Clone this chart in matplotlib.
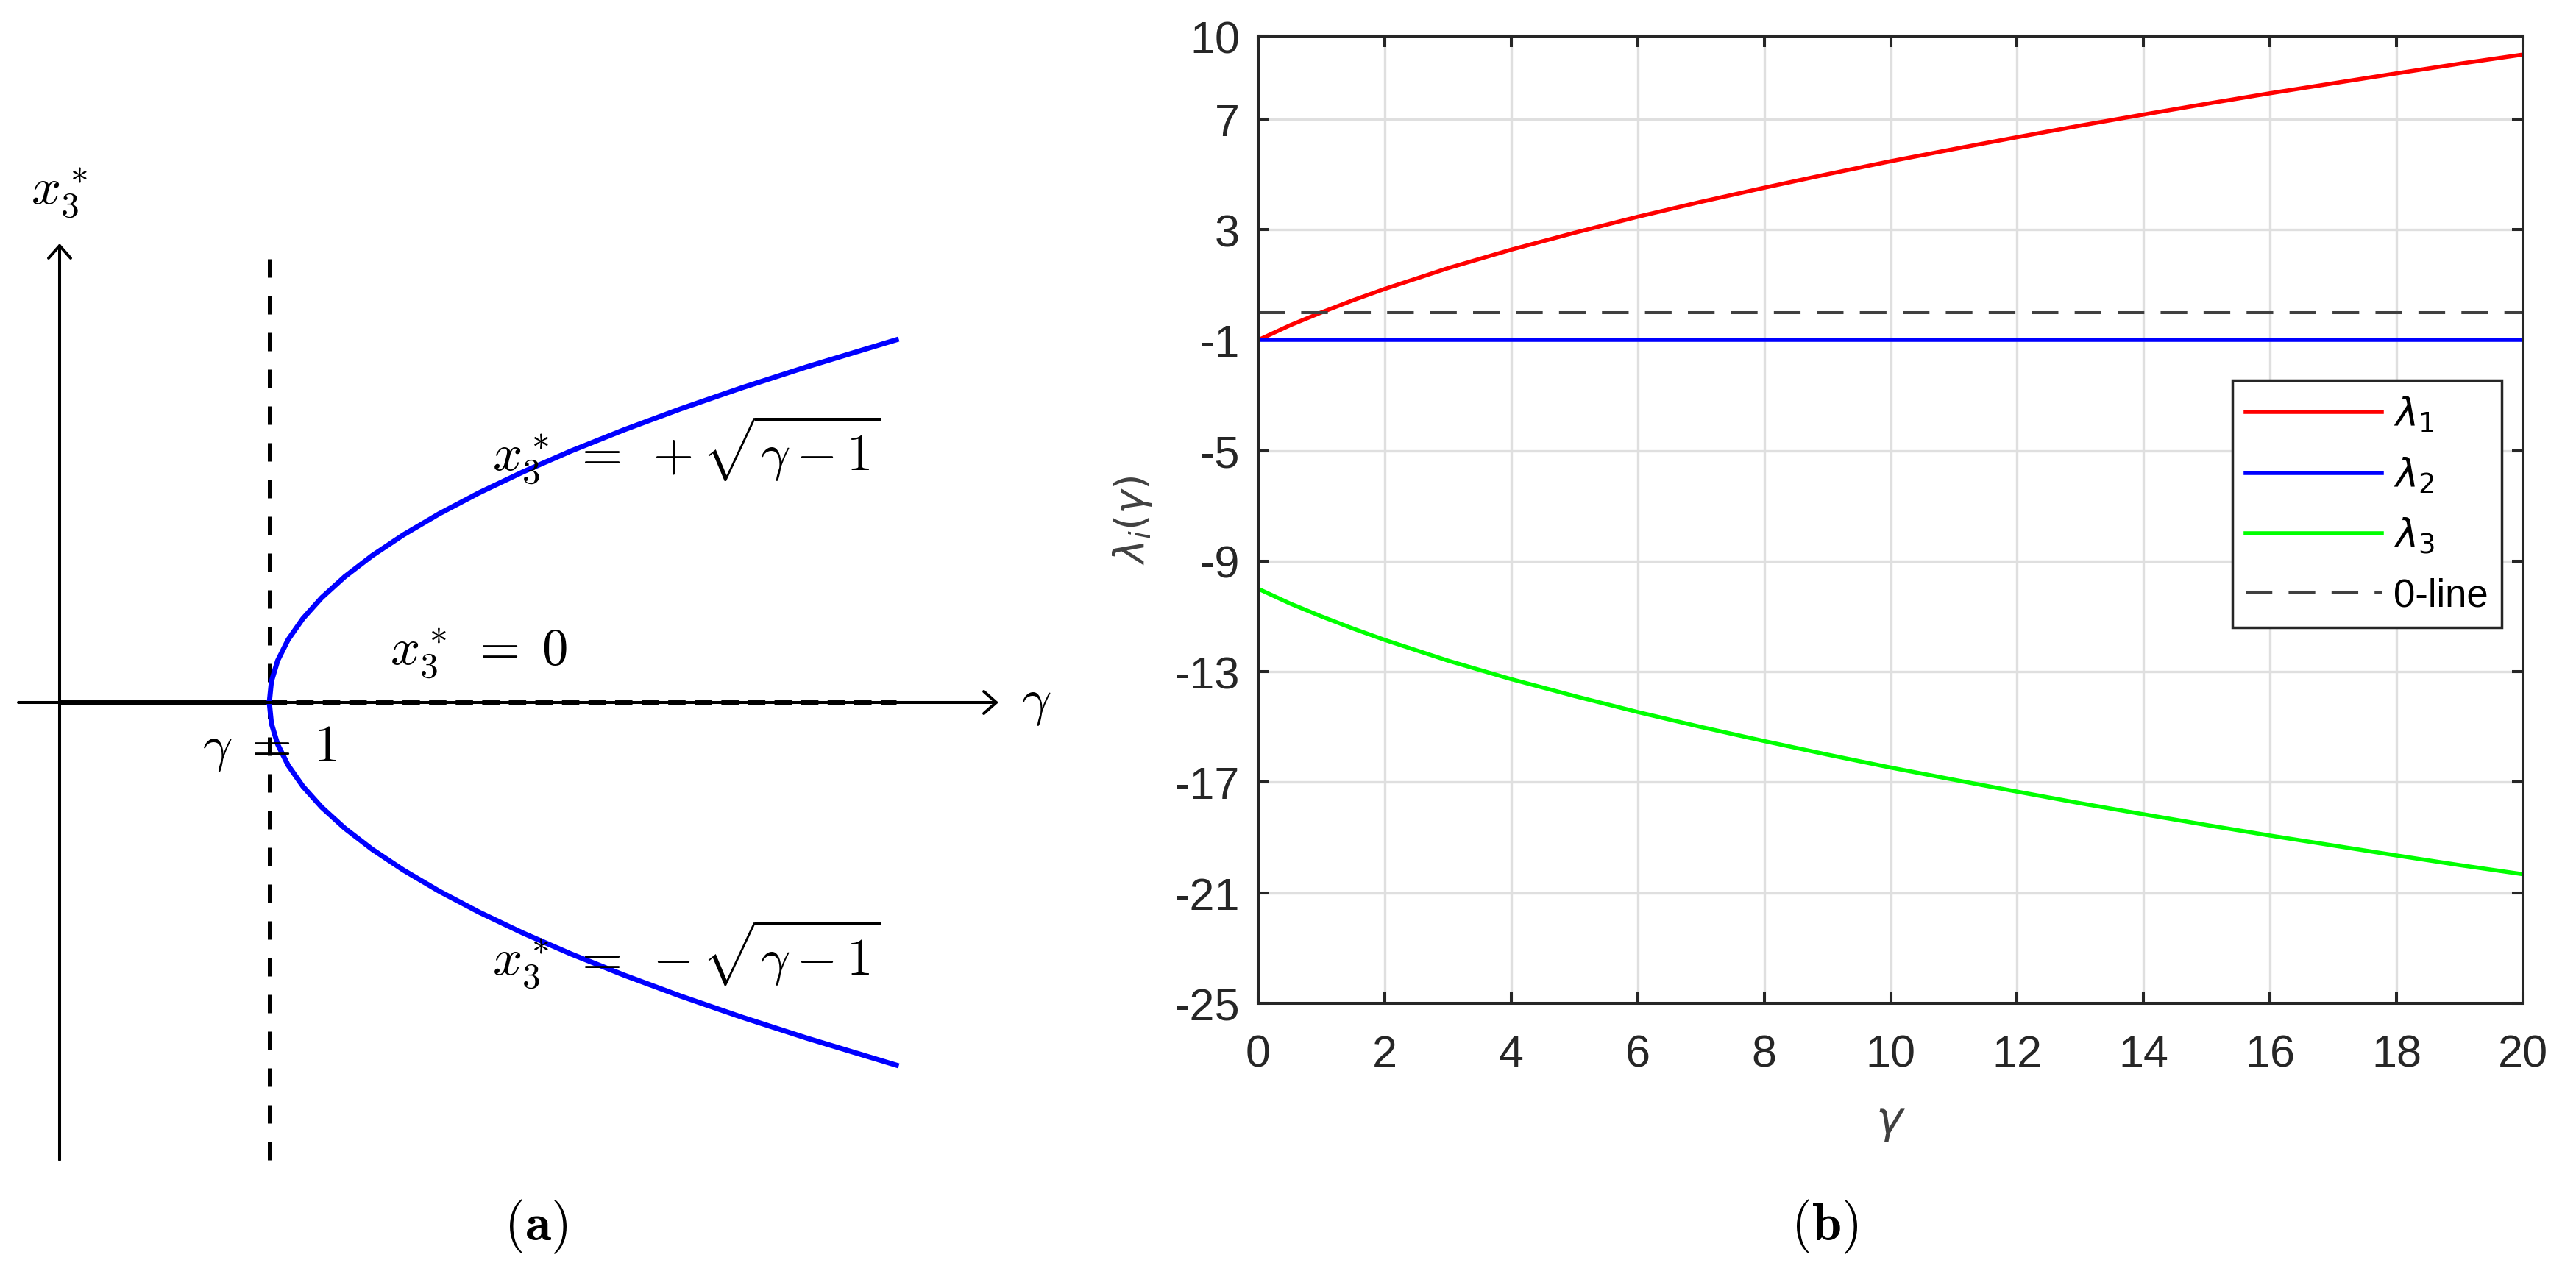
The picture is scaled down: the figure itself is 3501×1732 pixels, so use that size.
import matplotlib
matplotlib.use('Agg')
import matplotlib.pyplot as plt
from matplotlib.font_manager import FontProperties

plt.rcParams['mathtext.fontset'] = 'cm'
plt.rcParams['font.family'] = ['Liberation Sans', 'DejaVu Sans']
plt.rcParams['axes.unicode_minus'] = False

# ---- panel (a): bifurcation sketch ----
x3_branch = [0.0, 0.1, 0.2, 0.3, 0.4, 0.5, 0.6, 0.7, 0.8, 0.9, 1.0,
             1.1, 1.2, 1.3, 1.4, 1.5, 1.6, 1.73]
gamma_branch = [1.0, 1.01, 1.04, 1.09, 1.16, 1.25, 1.36, 1.49, 1.64, 1.81, 2.0,
                2.21, 2.44, 2.69, 2.96, 3.25, 3.56, 3.99]
gamma_crit = 1.0
gamma_end = 3.99

# ---- panel (b): eigenvalues vs gamma ----
gamma = [0, 0.5, 1, 1.5, 2, 3, 4, 5, 6, 7, 8, 9, 10, 11, 12, 13, 14, 15, 16,
         17, 18, 19, 20]
lam1 = [-1.0, -0.47, 0.0, 0.44, 0.85, 1.6, 2.27, 2.88, 3.46, 4.0, 4.51, 5.0,
        5.47, 5.91, 6.34, 6.76, 7.16, 7.55, 7.93, 8.29, 8.65, 9.0, 9.33]
lam2 = [-1.0, -1.0]
lam2_gamma = [0, 20]
lam3 = [-10.0, -10.53, -11.0, -11.44, -11.85, -12.6, -13.27, -13.88, -14.46,
        -15.0, -15.51, -16.0, -16.47, -16.91, -17.34, -17.76, -18.16, -18.55,
        -18.93, -19.29, -19.65, -20.0, -20.33]
zero_line = [0, 0]
yticks_b = [-25, -21, -17, -13, -9, -5, -1, 3, 7, 10]
xticks_b = list(range(0, 21, 2))

W, H = 3501, 1733
fig = plt.figure(figsize=(W / 100, H / 100), dpi=100)

# left panel in "pixel-like" data units: 285 px per unit
u = 285.0
axa = fig.add_axes([0, 0, 1650 / W, 1])
axa.set_xlim(-81 / u, (1650 - 81) / u)
axa.set_ylim(-(H - 956) / u, 956 / u)
axa.axis('off')

arrow = dict(arrowstyle='->,head_length=0.45,head_width=0.4', lw=2.9,
             color='k', shrinkA=0, shrinkB=0, mutation_scale=27)
axa.annotate('', xy=((1357 - 81) / u, 0), xytext=((25 - 81) / u, 0), arrowprops=arrow)
axa.annotate('', xy=(0, (956 - 332) / u), xytext=(0, -(1578 - 956) / u), arrowprops=arrow)

axa.plot([gamma_crit, gamma_crit], [-(1578 - 956) / u, (956 - 332) / u], color='k',
         lw=3.6, dashes=(5, 5))
axa.plot([0, gamma_crit], [0, 0], color='k', lw=5, solid_capstyle='butt')
axa.plot([gamma_crit, gamma_end], [0, 0], color='k', lw=5, dashes=(3.4, 1.8))
axa.plot(gamma_branch, x3_branch, color='#0000ff', lw=5)
axa.plot(gamma_branch, [-v for v in x3_branch], color='#0000ff', lw=5)

fs_a = 51
axa.text(0, (956 - 262) / u, r'$x_3^*$', fontsize=fs_a, ha='center', va='center')
axa.text((1408 - 81) / u, 0, r'$\gamma$', fontsize=fs_a, ha='center', va='center')
axa.text((933 - 81) / u, (956 - 612) / u, r'$x_3^*\;=\;+\sqrt{\gamma - 1}$',
         fontsize=fs_a, ha='center', va='center')
axa.text((650 - 81) / u, (956 - 888) / u, r'$x_3^*\;=\;0$', fontsize=fs_a,
         ha='center', va='center')
axa.text(gamma_crit, -(1018 - 956) / u, r'$\gamma\;=\;1$', fontsize=fs_a,
         ha='center', va='center')
axa.text((933 - 81) / u, -(1298 - 956) / u, r'$x_3^*\;=\;-\sqrt{\gamma - 1}$',
         fontsize=fs_a, ha='center', va='center')
fig.text(728 / W, 1 - 1668 / H, r'$(\mathbf{a})$', fontsize=52, ha='center', va='center')

# right panel
axb = fig.add_axes([1710 / W, (H - 1365) / H, 1719 / W, 1315 / H])
axb.plot(gamma, lam1, color='#ff0000', lw=4, label=r'$\lambda_1$')
axb.plot(lam2_gamma, lam2, color='#0000ff', lw=4, label=r'$\lambda_2$')
axb.plot(gamma, lam3, color='#00ff00', lw=4, label=r'$\lambda_3$')
axb.plot(lam2_gamma, zero_line, color='#404040', lw=2.9, dashes=(9, 5.5), label='0-line')
axb.set_xlim(0, 20)
axb.set_ylim(-25, 10)
axb.set_xticks(xticks_b)
axb.set_yticks(yticks_b)
axb.grid(True, color='#dfdfdf', lw=2.4)
axb.set_axisbelow(True)
for s in axb.spines.values():
    s.set_color('#262626')
    s.set_linewidth(2.9)
axb.tick_params(direction='in', length=11, width=2.9, color='#262626', top=True,
                right=True, labelsize=44, labelcolor='#262626')
axb.tick_params(axis='x', pad=30)
axb.tick_params(axis='y', pad=18)
axb.set_xlabel(r'$\gamma$', fontsize=44, color='#404040', labelpad=25,
               math_fontfamily='dejavusans')
axb.set_ylabel(r'$\lambda_i(\gamma)$', fontsize=40, color='#404040', labelpad=20,
               math_fontfamily='dejavusans')

leg_prop = FontProperties(family='Liberation Sans', size=38, math_fontfamily='dejavusans')
leg = axb.legend(loc='upper right', bbox_to_anchor=(0.983, 0.644), borderaxespad=0,
                 prop=leg_prop, fancybox=False, framealpha=1, edgecolor='#262626',
                 handlelength=3.5, handletextpad=0.3, labelspacing=0.55, borderpad=0.35)
leg.get_frame().set_linewidth(2.5)

fig.text(2480 / W, 1 - 1668 / H, r'$(\mathbf{b})$', fontsize=52, ha='center', va='center')

fig.savefig('out.png', dpi=100)
